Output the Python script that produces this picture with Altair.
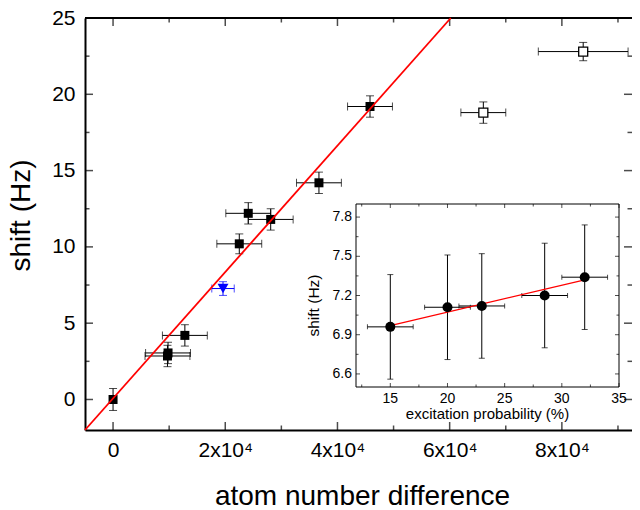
import altair as alt
import pandas as pd

FONT = "Liberation Sans"

# ---------------- main panel data ----------------
main_x = [0, 9700, 9800, 12800, 22500, 24100, 28100, 36700, 45800]
main_y = [0.0, 2.85, 3.05, 4.2, 10.2, 12.2, 11.8, 14.2, 19.2]
main_xerr = [0, 4000, 4000, 4000, 4000, 4000, 4000, 4000, 4000]
main_yerr = [0.72, 0.7, 0.7, 0.7, 0.65, 0.7, 0.7, 0.7, 0.7]

open_x = [66000, 83800]
open_y = [18.8, 22.8]
open_xerr = [4000, 8000]
open_yerr = [0.7, 0.6]

blue_x = [19600]
blue_y = [7.27]
blue_xerr = [2000]
blue_yerr = [0.45]

fit_x = [-5000, 60200]
fit_y = [-2.0, 25.0]

# ---------------- inset data ----------------
exc = [15, 20, 23, 28.5, 32]
exc_shift = [6.96, 7.11, 7.12, 7.20, 7.34]
exc_xerr = [2, 2, 2, 2, 2]
exc_yerr = [0.40, 0.40, 0.40, 0.40, 0.40]
exc_fit_x = [15, 32]
exc_fit_y = [6.97, 7.32]

# ---------------- ticks ----------------
x_major = [0, 20000, 40000, 60000, 80000]
x_minor = [10000, 30000, 50000, 70000, 90000]
y_major = [0, 5, 10, 15, 20, 25]
y_minor = [2.5, 7.5, 12.5, 17.5, 22.5]
ix_major = [15, 20, 25, 30, 35]
ix_minor = [12.5, 17.5, 22.5, 27.5, 32.5]
iy_major = [6.6, 6.9, 7.2, 7.5, 7.8]
iy_minor = [6.75, 7.05, 7.35, 7.65]

XD = [-5000, 92500]
YD = [-2, 25]
XI = [12, 35]
YI = [6.5, 7.9]

W, H = 547, 412
INSET_XR = [271, 534]
INSET_YR = [369, 186]

xs = alt.Scale(domain=XD, nice=False, zero=False)
ys = alt.Scale(domain=YD, nice=False, zero=False)
ixs = alt.Scale(domain=XI, range=INSET_XR, nice=False, zero=False)
iys = alt.Scale(domain=YI, range=INSET_YR, nice=False, zero=False)

xaxis = alt.Axis(
    values=x_major, ticks=False, grid=False, domainWidth=2, domainColor="black",
    labelFont=FONT, labelFontSize=21, labelColor="black", labelPadding=9,
    labelFlush=False, labelOverlap=False,
    labelExpr="datum.value == 0 ? '0' : format(datum.value / 10000, 'd') + 'x10\u2074'",
    title="atom number difference", titleFont=FONT, titleFontSize=28,
    titleFontWeight="normal", titleColor="black", titleBaseline="alphabetic",
    titleX=277, titleY=74,
)
yaxis = alt.Axis(
    values=y_major, ticks=False, grid=False, domainWidth=2, domainColor="black",
    labelFont=FONT, labelFontSize=21, labelColor="black", labelPadding=10,
    labelFlush=False, labelOverlap=False,
    title="shift (Hz)", titleFont=FONT, titleFontSize=28, titleFontWeight="normal",
    titleColor="black", titleAngle=270, titleBaseline="alphabetic", titleAlign="center",
    titleX=-56, titleY=197,
)


def X(f):
    return alt.X(f, scale=xs, axis=xaxis)


def Y(f):
    return alt.Y(f, scale=ys, axis=yaxis)


def IX(f):
    return alt.X(f, scale=ixs, axis=None)


def IY(f):
    return alt.Y(f, scale=iys, axis=None)


pts = pd.concat([
    pd.DataFrame({"x": main_x, "y": main_y, "xerr": main_xerr, "yerr": main_yerr, "kind": "filled"}),
    pd.DataFrame({"x": open_x, "y": open_y, "xerr": open_xerr, "yerr": open_yerr, "kind": "open"}),
    pd.DataFrame({"x": blue_x, "y": blue_y, "xerr": blue_xerr, "yerr": blue_yerr, "kind": "blue"}),
], ignore_index=True)

col = alt.Color("kind:N", scale=alt.Scale(domain=["filled", "open", "blue"],
                                          range=["black", "black", "#0000ff"]), legend=None)

base = alt.Chart(pts).transform_calculate(
    xlo="datum.x - datum.xerr", xhi="datum.x + datum.xerr",
    ylo="datum.y - datum.yerr", yhi="datum.y + datum.yerr",
)

xbar = base.transform_filter("datum.xerr > 0").mark_rule(strokeWidth=1).encode(
    x=X("xlo:Q"), x2="xhi:Q", y=Y("y:Q"), color=col)
ybar = base.mark_rule(strokeWidth=1).encode(
    x=X("x:Q"), y=Y("ylo:Q"), y2="yhi:Q", color=col)
xcap = base.transform_filter("datum.xerr > 0").transform_fold(
    ["xlo", "xhi"], as_=["end", "xe"]).mark_tick(
    orient="vertical", size=8, thickness=1).encode(x=X("xe:Q"), y=Y("y:Q"), color=col)
ycap = base.transform_fold(["ylo", "yhi"], as_=["end", "ye"]).mark_tick(
    orient="horizontal", size=8, thickness=1).encode(x=X("x:Q"), y=Y("ye:Q"), color=col)

filled = base.transform_filter("datum.kind == 'filled'").mark_point(
    shape="square", filled=True, size=81, opacity=1, color="black").encode(x=X("x:Q"), y=Y("y:Q"))
opened = base.transform_filter("datum.kind == 'open'").mark_point(
    shape="square", filled=True, fill="white", stroke="black", strokeWidth=1.3,
    size=81, opacity=1).encode(x=X("x:Q"), y=Y("y:Q"))
blue = base.transform_filter("datum.kind == 'blue'").mark_point(
    shape="triangle-down", filled=True, size=120, opacity=1, color="#0000ff").encode(
    x=X("x:Q"), y=Y("y:Q"))

fit = alt.Chart(pd.DataFrame({"x": fit_x, "y": fit_y})).mark_line(
    color="red", strokeWidth=1.8).encode(x=X("x:Q"), y=Y("y:Q"))

top_rule = alt.Chart(pd.DataFrame({"y": [YD[1]]})).mark_rule(
    color="black", strokeWidth=2).encode(y=Y("y:Q"))


def main_ticks(vals, L, side):
    if side in ("bottom", "top"):
        df = pd.DataFrame({"x": vals, "y": YD[0] if side == "bottom" else YD[1]})
        off = -L / 2 if side == "bottom" else L / 2
        return alt.Chart(df).mark_tick(orient="vertical", size=L, thickness=1.5,
                                       yOffset=off, color="black").encode(x=X("x:Q"), y=Y("y:Q"))
    df = pd.DataFrame({"x": XD[0] if side == "left" else XD[1], "y": vals})
    off = L / 2 if side == "left" else -L / 2
    return alt.Chart(df).mark_tick(orient="horizontal", size=L, thickness=1.5,
                                   xOffset=off, color="black").encode(x=X("x:Q"), y=Y("y:Q"))


mticks = []
for s in ("bottom", "top"):
    mticks.append(main_ticks(x_major, 8, s))
    mticks.append(main_ticks(x_minor, 4.5, s))
for s in ("left", "right"):
    mticks.append(main_ticks(y_major, 8, s))
    mticks.append(main_ticks(y_minor, 4.5, s))

main = alt.layer(top_rule, *mticks, xbar, ybar, xcap, ycap, filled, opened, blue, fit)

# ---------------- inset ----------------
frame = alt.Chart(pd.DataFrame({"a": [XI[0]], "b": [XI[1]], "c": [YI[0]], "d": [YI[1]]})).mark_rect(
    fill="white", stroke="black", strokeWidth=1).encode(
    x=IX("a:Q"), x2="b:Q", y=IY("c:Q"), y2="d:Q")


def inset_ticks(vals, L, side):
    if side in ("bottom", "top"):
        df = pd.DataFrame({"x": vals, "y": YI[0] if side == "bottom" else YI[1]})
        off = -L / 2 if side == "bottom" else L / 2
        return alt.Chart(df).mark_tick(orient="vertical", size=L, thickness=1,
                                       yOffset=off, color="black").encode(x=IX("x:Q"), y=IY("y:Q"))
    df = pd.DataFrame({"x": XI[0] if side == "left" else XI[1], "y": vals})
    off = L / 2 if side == "left" else -L / 2
    return alt.Chart(df).mark_tick(orient="horizontal", size=L, thickness=1,
                                   xOffset=off, color="black").encode(x=IX("x:Q"), y=IY("y:Q"))


iticks = []
for s in ("bottom", "top"):
    iticks.append(inset_ticks(ix_major, 4, s))
    iticks.append(inset_ticks(ix_minor, 2.5, s))
for s in ("left", "right"):
    iticks.append(inset_ticks(iy_major, 4, s))
    iticks.append(inset_ticks(iy_minor, 2.5, s))

ipts = pd.DataFrame({"x": exc, "y": exc_shift, "xerr": exc_xerr, "yerr": exc_yerr})
ibase = alt.Chart(ipts).transform_calculate(
    xlo="datum.x - datum.xerr", xhi="datum.x + datum.xerr",
    ylo="datum.y - datum.yerr", yhi="datum.y + datum.yerr",
)
ixbar = ibase.mark_rule(strokeWidth=1, color="black").encode(x=IX("xlo:Q"), x2="xhi:Q", y=IY("y:Q"))
iybar = ibase.mark_rule(strokeWidth=1, color="black").encode(x=IX("x:Q"), y=IY("ylo:Q"), y2="yhi:Q")
ixcap = ibase.transform_fold(["xlo", "xhi"], as_=["end", "xe"]).mark_tick(
    orient="vertical", size=5, thickness=1, color="black").encode(x=IX("xe:Q"), y=IY("y:Q"))
iycap = ibase.transform_fold(["ylo", "yhi"], as_=["end", "ye"]).mark_tick(
    orient="horizontal", size=6, thickness=1, color="black").encode(x=IX("x:Q"), y=IY("ye:Q"))
ipoint = ibase.mark_point(shape="circle", filled=True, size=100, opacity=1, color="black").encode(
    x=IX("x:Q"), y=IY("y:Q"))
ifit = alt.Chart(pd.DataFrame({"x": exc_fit_x, "y": exc_fit_y})).mark_line(
    color="red", strokeWidth=1.3).encode(x=IX("x:Q"), y=IY("y:Q"))

ixlab = alt.Chart(pd.DataFrame({"x": ix_major, "y": YI[0]})).mark_text(
    baseline="top", dy=5, font=FONT, fontSize=14, color="black").encode(
    x=IX("x:Q"), y=IY("y:Q"), text=alt.Text("x:Q", format="d"))
iylab = alt.Chart(pd.DataFrame({"x": XI[0], "y": iy_major})).mark_text(
    align="right", baseline="middle", dx=-4, font=FONT, fontSize=14, color="black").encode(
    x=IX("x:Q"), y=IY("y:Q"), text=alt.Text("y:Q", format=".1f"))
ixtitle = alt.Chart(pd.DataFrame({"x": [(XI[0] + XI[1]) / 2], "y": [YI[0]]})).mark_text(
    baseline="alphabetic", dy=32, font=FONT, fontSize=15, color="black",
    text="excitation probability (%)").encode(x=IX("x:Q"), y=IY("y:Q"))
# dx/dy act in the rotated text frame: dx along the text (screen up), dy across (screen right)
iytitle = alt.Chart(pd.DataFrame({"x": [XI[0]], "y": [(YI[0] + YI[1]) / 2]})).mark_text(
    baseline="middle", align="center", angle=270, dx=-10, dy=-42, font=FONT, fontSize=15.5,
    color="black", text="shift (Hz)").encode(x=IX("x:Q"), y=IY("y:Q"))

inset = alt.layer(frame, *iticks, ixbar, iybar, ixcap, iycap, ifit, ipoint,
                  ixlab, iylab, ixtitle, iytitle)

chart = alt.layer(main, inset).resolve_scale(x="independent", y="independent").properties(
    width=W, height=H,
    padding={"left": 77, "top": 10, "right": 0, "bottom": 80},
    autosize=alt.AutoSizeParams(type="none"),
).configure_view(stroke=None)

chart.save("out.html", embed_options={"renderer": "svg", "actions": False})
